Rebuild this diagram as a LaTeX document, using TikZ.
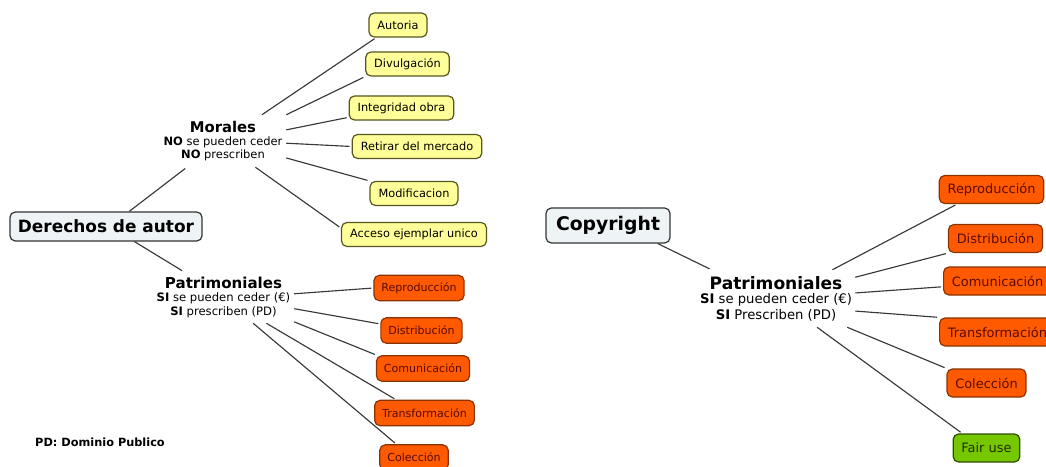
\documentclass[tikz,border=0pt]{standalone}
\usepackage{fontspec}
\setmainfont{DejaVu Sans}
\begin{document}
\begin{tikzpicture}[x=0.75pt,y=-0.75pt,
  every node/.style={inner ysep=0pt},
  link/.style={draw=black!78, line width=0.85pt, shorten >=1.5pt},
  hub/.style={inner sep=0pt, align=center},
  rootbox/.style={draw=black!80, fill=rootfill, rounded corners=4pt, line width=0.9pt, font=\bfseries},
  ybox/.style={draw=yborder, fill=yfill, rounded corners=4pt, line width=0.9pt, text=black,
     font=\fontsize{8.5}{10}\selectfont, inner xsep=6.4pt, minimum height=18pt},
  obox/.style={draw=oborder, fill=ofill, rounded corners=4pt, line width=0.9pt, text=otext,
     font=\fontsize{8.3}{9.5}\selectfont, inner xsep=5.6pt, minimum height=19pt},
  oboxr/.style={draw=oborder, fill=ofill, rounded corners=4pt, line width=0.9pt, text=otext,
     font=\fontsize{9.7}{11}\selectfont, inner xsep=6.2pt, minimum height=21pt},
  gbox/.style={draw=gborder, fill=gfill, rounded corners=4pt, line width=0.9pt, text=gtext,
     font=\fontsize{9.7}{11}\selectfont, inner xsep=6.2pt, minimum height=21pt}]
\definecolor{rootfill}{HTML}{EEF4F6}
\definecolor{yfill}{HTML}{FFFF99}
\definecolor{yborder}{HTML}{55551F}
\definecolor{ofill}{HTML}{FF5A00}
\definecolor{oborder}{HTML}{8A3300}
\definecolor{otext}{HTML}{5A0A00}
\definecolor{gfill}{HTML}{77C700}
\definecolor{gborder}{HTML}{2E4D00}
\definecolor{gtext}{HTML}{1E2E00}
\useasboundingbox (0,0) rectangle (1046,467);
\clip (0,0) rectangle (1046,467);
\fill[white] (0,0) rectangle (1046,467);

% left side
\node[rootbox, font=\fontsize{12.7}{14}\selectfont\bfseries, inner xsep=6pt, minimum height=21.75pt] (der) at (106,226.5) {Derechos de autor};
\node[hub, minimum width=94.5pt, minimum height=39pt, font=\fontsize{8.6}{9.75}\selectfont] (mor) at (223,141)
  {{\fontsize{11.1}{12}\selectfont\bfseries Morales}\\[-0.5pt]\textbf{NO} se pueden ceder\\\textbf{NO} prescriben};
\node[hub, minimum width=105.75pt, minimum height=38.25pt, font=\fontsize{8.7}{10.2}\selectfont] (patl) at (223.5,297.5)
  {{\fontsize{11.3}{12}\selectfont\bfseries Patrimoniales}\\[-0.5pt]\textbf{SI} se pueden ceder (€)\\\textbf{SI} prescriben (PD)};

\node[ybox] (au) at (398,25) {Autoria};
\node[ybox] (di) at (407.5,64) {Divulgación};
\node[ybox] (in) at (401.5,108) {Integridad obra};
\node[ybox] (re) at (417,146.5) {Retirar del mercado};
\node[ybox] (mo) at (414,193.5) {Modificacion};
\node[ybox] (ac) at (414,234.5) {Acceso ejemplar unico};

\node[obox] (rp) at (419,288) {Reproducción};
\node[obox] (ds) at (421.5,330.5) {Distribución};
\node[obox] (cm) at (423,368.5) {Comunicación};
\node[obox] (tr) at (424.5,413) {Transformación};
\node[obox] (cl) at (414,457.5) {Colección};

\node[font=\fontsize{8.5}{10}\selectfont\bfseries, inner sep=0pt] (pd) at (100,442) {PD: Dominio Publico};

\draw[link] (der.33) -- (mor.216.6);
\draw[link] (der.-28) -- (patl.147.8);
\draw[link] (mor.34) -- (au.210);
\draw[link] (mor.north east) -- (di.south west);
\draw[link] (mor.10.8) -- (in.190);
\draw[link] (mor.-2.7) -- (re.west);
\draw[link] (mor.-15) -- (mo.north west);
\draw[link] (mor.-39.8) -- (ac.175);
\draw[link] (patl.3.7) -- (rp.west);
\draw[link] (patl.-9.4) -- (ds.171);
\draw[link] (patl.-19.4) -- (cm.164);
\draw[link] (patl.-31) -- (tr.155.6);
\draw[link] (patl.-41.8) -- (cl.143.7);

% right side
\node[rootbox, font=\fontsize{14.1}{16}\selectfont\bfseries, inner xsep=7.5pt, minimum height=26.25pt] (cr) at (608,225.5) {Copyright};
\node[hub, minimum width=118.5pt, minimum height=42.75pt, font=\fontsize{9.9}{11.5}\selectfont] (patr) at (776,298.5)
  {{\fontsize{12.8}{14}\selectfont\bfseries Patrimoniales}\\[-0.5pt]\textbf{SI} se pueden ceder (€)\\\textbf{SI} Prescriben (PD)};

\node[oboxr] (rp2) at (991.5,189.5) {Reproducción};
\node[oboxr] (ds2) at (995.5,238.5) {Distribución};
\node[oboxr, anchor=west] (cm2) at (943,281) {Comunicación};
\node[oboxr, anchor=west] (tr2) at (939,332) {Transformación};
\node[oboxr] (cl2) at (986.5,383) {Colección};
\node[gbox] (fu) at (986.5,448) {Fair use};

\draw[link] (cr.-20) -- (patr.156);
\draw[link] (patr.27) -- (rp2.203.6);
\draw[link] (patr.15.2) -- (ds2.south west);
\draw[link] (patr.4.7) -- (cm2.186);
\draw[link] (patr.-9) -- (tr2.north west);
\draw[link] (patr.-22.2) -- (cl2.north west);
\draw[link] (patr.-35.5) -- (fu.149.2);
\end{tikzpicture}
\end{document}
